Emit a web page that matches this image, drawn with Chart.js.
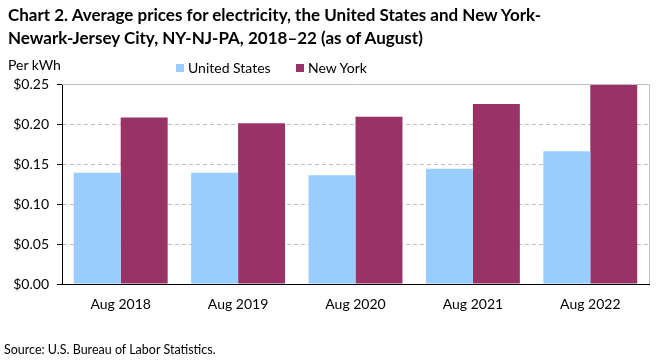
<!DOCTYPE html>
<html>
<head>
<meta charset="utf-8">
<script src="https://cdn.jsdelivr.net/npm/chart.js@4"></script>
<style>
  html, body { margin: 0; padding: 0; background: #fff; }
  #wrap { position: relative; width: 661px; height: 360px; font-family: Lato, "Open Sans", sans-serif; color: #000; }
  #title { position: absolute; left: 8px; top: 3px; font-weight: bold; font-size: 17px; line-height: 23px; white-space: nowrap; }
  #unit { position: absolute; left: 8px; top: 56px; font-size: 14px; }
  #legend { position: absolute; top: 59px; left: 0; width: 661px; height: 20px; font-size: 14px; }
  #legend .item { position: absolute; top: 0; display: flex; align-items: center; white-space: nowrap; }
  #legend .sw { width: 8px; height: 8px; margin-right: 4px; }
  #source { position: absolute; left: 4px; top: 342px; font-size: 12.5px; }
  canvas { position: absolute; left: 0; top: 0; }
</style>
</head>
<body>
<div id="wrap">
  <canvas id="c" width="661" height="360"></canvas>
  <div id="title">Chart 2. Average prices for electricity, the United States and New York-<br>Newark-Jersey City, NY-NJ-PA, 2018–22 (as of August)</div>
  <div id="unit">Per kWh</div>
  <div id="legend"></div>
  <div id="source">Source: U.S. Bureau of Labor Statistics.</div>
</div>
<script>
const categories = ["Aug 2018", "Aug 2019", "Aug 2020", "Aug 2021", "Aug 2022"];
const seriesNames = ["United States", "New York"];
const unitedStates = [0.139, 0.139, 0.136, 0.144, 0.166];
const newYork = [0.208, 0.201, 0.209, 0.225, 0.249];
const seriesColors = ["#99ccff", "#993366"];

const legend = document.getElementById('legend');
const legendLeft = [176, 296];
seriesNames.forEach((n, i) => {
  const it = document.createElement('div'); it.className = 'item'; it.style.left = legendLeft[i] + 'px';
  const sw = document.createElement('div'); sw.className = 'sw'; sw.style.background = seriesColors[i];
  const tx = document.createElement('span'); tx.textContent = n;
  it.appendChild(sw); it.appendChild(tx); legend.appendChild(it);
});

const frame = {
  id: 'frame',
  afterDatasetsDraw(chart) {
    const a = chart.chartArea, ctx = chart.ctx;
    ctx.save();
    ctx.strokeStyle = '#bfbfbf'; ctx.lineWidth = 1; ctx.setLineDash([]);
    ctx.beginPath();
    ctx.moveTo(a.left, a.top + 0.5); ctx.lineTo(a.right + 0.5, a.top + 0.5); ctx.lineTo(a.right + 0.5, a.bottom);
    ctx.stroke();
    ctx.restore();
  }
};

new Chart(document.getElementById('c'), {
  type: 'bar',
  data: {
    labels: categories,
    datasets: [
      { label: seriesNames[0], data: unitedStates, backgroundColor: seriesColors[0] },
      { label: seriesNames[1], data: newYork, backgroundColor: seriesColors[1] }
    ]
  },
  options: {
    responsive: false,
    animation: false,
    devicePixelRatio: 1,
    layout: { padding: { left: 0, top: 84, right: 12, bottom: 0 } },
    datasets: { bar: { barPercentage: 1, categoryPercentage: 0.8 } },
    plugins: { legend: { display: false }, title: { display: false }, tooltip: { enabled: false } },
    scales: {
      x: {
        grid: { display: false, drawTicks: false },
        border: { display: true, color: '#000', width: 1 },
        ticks: { color: '#000', font: { family: 'Lato', size: 14 }, padding: 12 },
        afterFit(s) { s.height = 76; }
      },
      y: {
        min: 0, max: 0.25,
        ticks: { stepSize: 0.05, color: '#000', font: { family: 'Lato', size: 14 }, padding: 8,
                 callback: v => '$' + Number(v).toFixed(2) },
        grid: { color: '#bfbfbf', tickColor: '#000', tickLength: 5, tickBorderDash: [], drawTicks: true },
        border: { display: true, color: '#000', width: 1, dash: [4, 3] },
        afterFit(s) { s.width = 62; }
      }
    }
  },
  plugins: [frame]
});
</script>
</body>
</html>
